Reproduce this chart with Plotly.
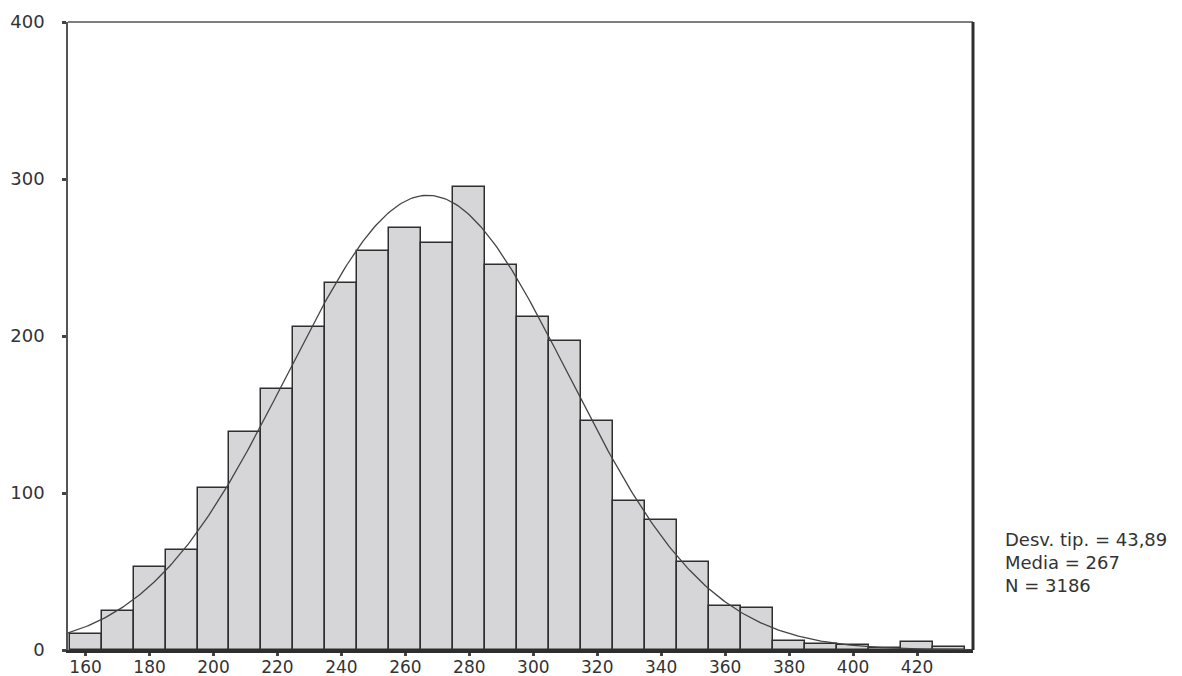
import numpy as np
import plotly.graph_objects as go

# Histogram data (bin centres, bin width 10)
bin_centers = [160, 170, 180, 190, 200, 210, 220, 230, 240, 250, 260, 270, 280, 290,
               300, 310, 320, 330, 340, 350, 360, 370, 380, 390, 400, 410, 420, 430]
counts = [10, 25, 53, 64, 103, 139, 166, 206, 234, 254, 269, 259, 295, 245,
          212, 197, 146, 95, 83, 56, 28, 27, 6, 4, 3, 1, 5, 2]
bin_width = 10

# Summary statistics shown on the chart
SD = 43.89
MEAN = 267
N = 3186
stat_lines = ["Desv. tip. = 43,89", "Media = 267", "N = 3186"]

x_ticks = [160, 180, 200, 220, 240, 260, 280, 300, 320, 340, 360, 380, 400, 420]
y_ticks = [0, 100, 200, 300, 400]
x_range = [154.5, 437.5]

# Fitted normal curve defined by the displayed statistics
xc = np.linspace(x_range[0], x_range[1], 400)
yc = N * bin_width / (SD * np.sqrt(2 * np.pi)) * np.exp(-0.5 * ((xc - MEAN) / SD) ** 2)

font_family = "DejaVu Sans, Lato, sans-serif"

fig = go.Figure()
fig.add_trace(go.Bar(
    x=bin_centers, y=counts, width=bin_width,
    marker=dict(color="#d6d6d9", line=dict(color="#2e2e2e", width=1.5)),
    hoverinfo="x+y",
))
fig.add_trace(go.Scatter(
    x=xc, y=yc, mode="lines",
    line=dict(color="#444444", width=1.3),
    hoverinfo="skip",
))

stat_y = [0.176, 0.140, 0.103]
annotations = [
    dict(xref="paper", yref="paper", x=1.033, y=yy, xanchor="left", yanchor="middle",
         align="left", showarrow=False, text=t,
         font=dict(size=18, color="#333333", family=font_family))
    for t, yy in zip(stat_lines, stat_y)
]

fig.update_layout(
    width=1174, height=668,
    margin=dict(l=60, r=209, t=14, b=26, autoexpand=False),
    paper_bgcolor="white", plot_bgcolor="white",
    showlegend=False,
    bargap=0,
    font=dict(family=font_family, size=18, color="#333333"),
    xaxis=dict(
        range=x_range, tickvals=x_ticks, ticktext=[str(v) for v in x_ticks],
        showgrid=False, zeroline=False, automargin=False,
        showline=True, linecolor="#2e2e2e", linewidth=2.5, mirror=False,
        ticks="outside", ticklen=3, tickwidth=3, tickcolor="#444444",
        tickfont=dict(size=17, color="#333333"),
        ticklabelstandoff=-3,
    ),
    yaxis=dict(
        range=[0, 400], tickvals=y_ticks, ticktext=[str(v) for v in y_ticks],
        showgrid=False, zeroline=False, automargin=False,
        showline=True, linecolor="#555555", linewidth=1.5, mirror=False,
        ticks="outside", ticklen=4, tickwidth=3, tickcolor="#444444",
        tickfont=dict(size=18, color="#333333"),
        ticklabelstandoff=14,
    ),
    shapes=[
        dict(type="line", xref="paper", yref="paper", x0=0, x1=1, y0=1, y1=1,
             line=dict(color="#555555", width=1.5)),
        dict(type="line", xref="paper", yref="paper", x0=1, x1=1, y0=0, y1=1,
             line=dict(color="#2e2e2e", width=3)),
    ],
    annotations=annotations,
)

fig.write_html("out.html")
